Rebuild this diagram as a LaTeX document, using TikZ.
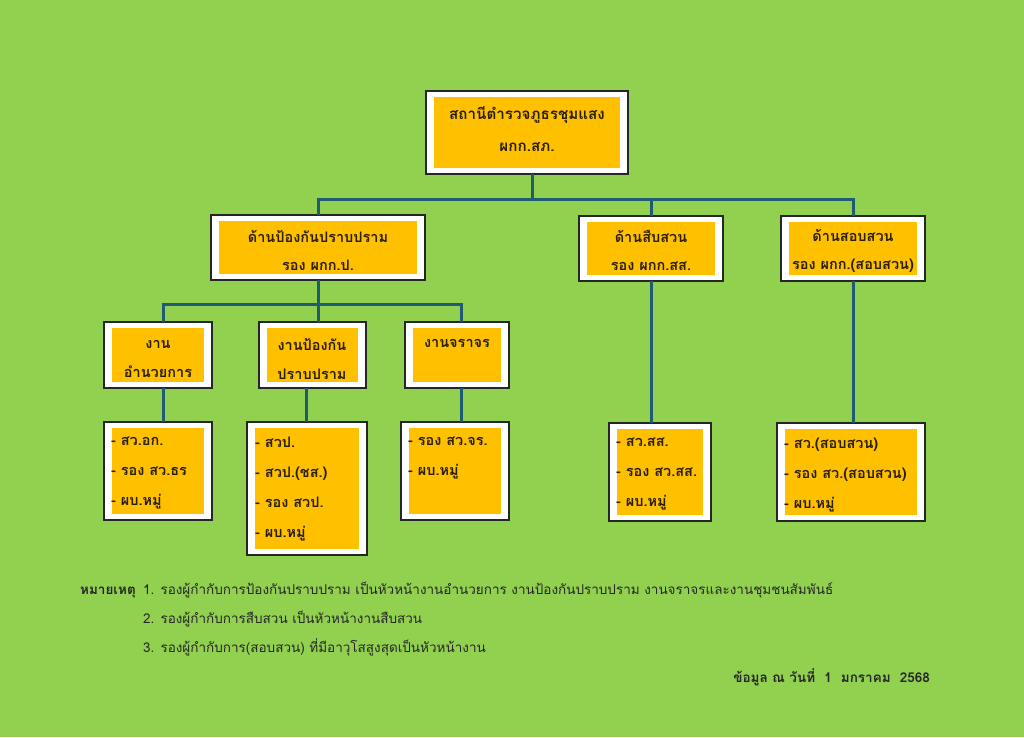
\documentclass[tikz,border=0pt]{standalone}
\usepackage{fontspec}
\newfontfamily\thaifont[Script=Thai]{Loma}
\definecolor{bg}{HTML}{92D050}
\definecolor{org}{HTML}{FFC000}
\definecolor{ln}{HTML}{1F5C73}
\definecolor{tx}{HTML}{2A1E05}
\newcommand\bxfont[1]{\thaifont\bfseries\fontsize{14.5}{#1}\selectfont}
\newcommand\ntfont{\thaifont\fontsize{13.5}{29}\selectfont}
\newcommand\obox[5]{%
  \node[outerbox, minimum width={#4-#2}, minimum height={#5-#3}] (#1) at ({(#2+#4)/2},{(#3+#5)/2}) {};
  \node[innerbox, minimum width={#4-#2-16}, minimum height={#5-#3-12}] (#1in) at (#1.center) {};
}
\begin{document}
\begin{tikzpicture}[x=1pt,y=-1pt,
  outerbox/.style={draw=black!85, line width=1.2pt, fill=white, inner sep=0pt, outer sep=0pt},
  innerbox/.style={fill=org, inner sep=0pt, outer sep=0pt},
  conn/.style={draw=ln, line width=3pt},
  btxt/.style={text=tx, font=\bxfont{#1}, inner sep=0pt, align=center},
  ltxt/.style={text=tx, font=\bxfont{30}, inner sep=0pt, align=left, anchor=north west},
  ntxt/.style={text=black!85, font=\ntfont, inner sep=0pt, anchor=base west}]
\useasboundingbox (0,0) rectangle (1024,737);
\fill[bg] (0,0) rectangle (1024,737);

% boxes
\obox{top}{426}{91}{628}{174}
\obox{A}{211}{215}{425}{280}
\obox{B}{579}{216}{723}{281}
\obox{C}{781}{216}{925}{281}
\obox{La}{104}{322}{212}{388}
\obox{Lb}{259}{322}{366}{388}
\obox{Lc}{405}{322}{509}{388}
\obox{Da}{104}{422}{212}{520}
\obox{Db}{247}{422}{367}{555}
\obox{Dc}{401}{422}{509}{520}
\obox{Dd}{609}{423}{711}{521}
\obox{De}{777}{423}{925}{521}

% junctions
\coordinate (j1) at (532,199);
\coordinate (j2) at (318,304);
\coordinate (ja) at (163,304);
\coordinate (jb) at (318,304);
\coordinate (jc) at (461,304);
\coordinate (ka) at (163,400);
\coordinate (kb) at (306,400);
\coordinate (kc) at (461,400);

% connectors
\draw[conn] (j1 |- top.south) -- (j1);
\draw[conn] (A.north) -- (A.north |- j1) -- (C.north |- j1) -- (C.north);
\draw[conn] (B.north) -- (B.north |- j1);
\draw[conn] (A.south) -- (j2);
\draw[conn] (ja |- La.north) -- (ja) -- (jc) -- (jc |- Lc.north);
\draw[conn] (jb) -- (jb |- Lb.north);
\draw[conn] (ka |- La.south) -- (ka |- Da.north);
\draw[conn] (kb |- Lb.south) -- (kb |- Db.north);
\draw[conn] (kc |- Lc.south) -- (kc |- Dc.north);
\draw[conn] (B.south) -- (B.south |- Dd.north);
\draw[conn] (C.south) -- (C.south |- De.north);

% box texts
\node[btxt=32, font=\thaifont\bfseries\fontsize{15.2}{32}\selectfont] (ttop) at (527,129) {สถานีตำรวจภูธรชุมแสง\\ผกก.สภ.};
\node[btxt=28] (tA) at (318,250.5) {ด้านป้องกันปราบปราม\\รอง ผกก.ป.};
\node[btxt=28] (tB) at (651,250.5) {ด้านสืบสวน\\รอง ผกก.สส.};
\node[btxt=28] (tC) at (853,250.5) {ด้านสอบสวน\\รอง ผกก.(สอบสวน)};
\node[btxt=29] (tLa) at (158,358.5) {งาน\\อำนวยการ};
\node[btxt=29] (tLb) at (312,358.5) {งานป้องกัน\\ปราบปราม};
\node[btxt=29] (tLc) at (457,343) {งานจราจร};
\node[ltxt] (tDa) at (111,437) {- สว.อก.\\- รอง สว.ธร\\- ผบ.หมู่};
\node[ltxt] (tDb) at (255,437) {- สวป.\\- สวป.(ชส.)\\- รอง สวป.\\- ผบ.หมู่};
\node[ltxt] (tDc) at (408,437) {- รอง สว.จร.\\- ผบ.หมู่};
\node[ltxt] (tDd) at (616,438) {- สว.สส.\\- รอง สว.สส.\\- ผบ.หมู่};
\node[ltxt] (tDe) at (784,438) {- สว.(สอบสวน)\\- รอง สว.(สอบสวน)\\- ผบ.หมู่};

% notes
\node[ntxt, font=\ntfont\bfseries] (nh) at (80,594) {หมายเหตุ};
\node[ntxt] (n1) at (143,594) {1. รองผู้กำกับการป้องกันปราบปราม เป็นหัวหน้างานอำนวยการ งานป้องกันปราบปราม งานจราจรและงานชุมชนสัมพันธ์};
\node[ntxt] (n2) at (143,623) {2. รองผู้กำกับการสืบสวน เป็นหัวหน้างานสืบสวน};
\node[ntxt] (n3) at (143,652) {3. รองผู้กำกับการ(สอบสวน) ที่มีอาวุโสสูงสุดเป็นหัวหน้างาน};
\node[ntxt, font=\ntfont\bfseries, anchor=base east] (nd) at (930,682) {ข้อมูล ณ วันที่~ 1~ มกราคม~ 2568};
\end{tikzpicture}
\end{document}
